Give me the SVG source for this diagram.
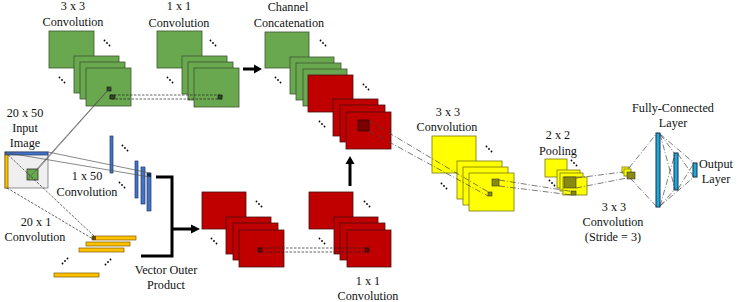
<svg xmlns="http://www.w3.org/2000/svg" width="747" height="302" viewBox="0 0 747 302">
<style>
text{font-family:'Liberation Serif','Times New Roman',Times,serif;font-size:12.2px;fill:#111;text-anchor:middle}
.g{fill:#6aa84f;stroke:#3d5530;stroke-width:0.8}
.r{fill:#c00000;stroke:#4a1010;stroke-width:0.8}
.y{fill:#ffff00;stroke:#77770a;stroke-width:0.8}
.b{fill:#4472c4;stroke:#213a6a;stroke-width:0.7}
.o{fill:#ffc000;stroke:#7a5c00;stroke-width:0.7}
.fc{fill:#1fa8dc;stroke:#14304a;stroke-width:1}
.thin{fill:none;stroke:#555;stroke-width:0.7}
.dash{fill:none;stroke:#222;stroke-width:0.7;stroke-dasharray:2.5 1.5}
.dd{fill:none;stroke:#444;stroke-width:0.7;stroke-dasharray:6 2 1 2}
.thick{fill:none;stroke:#000;stroke-width:3}
</style>
<defs>
<g id="dse"><circle cx="-2.5" cy="-2.5" r="0.9"/><circle cx="0" cy="0" r="0.9"/><circle cx="2.5" cy="2.5" r="0.9"/></g>
<g id="dne"><circle cx="-2.5" cy="2.5" r="0.9"/><circle cx="0" cy="0" r="0.9"/><circle cx="2.5" cy="-2.5" r="0.9"/></g>
</defs>
<rect width="747" height="302" fill="#fff"/>
<g font-family="Liberation Serif, Times New Roman, serif">

<g id="input-image">
<rect x="5" y="152" width="43" height="36" fill="#efefef" stroke="#777" stroke-width="0.8"/>
<rect class="b" x="5" y="152" width="43" height="3"/>
<rect class="o" x="5" y="155" width="3" height="33"/>
<rect class="g" x="27" y="169" width="11" height="11" style="stroke:#333"/>
<text x="25" y="117">20 x 50</text>
<text x="25" y="132">Input</text>
<text x="25" y="147">Image</text>
</g>

<g id="conv3x3-green">
<rect class="g" x="49" y="31" width="45" height="37"/>
<rect class="g" x="74" y="56" width="45" height="37"/>
<rect class="g" x="80" y="62" width="45" height="37"/>
<rect class="g" x="86" y="68" width="45" height="38"/>
<rect x="107" y="87" width="4" height="4" fill="#2d4a22" stroke="#111" stroke-width="0.6"/>
<use href="#dse" x="107" y="43"/><use href="#dse" x="62" y="80"/>
<text x="73" y="10">3 x 3</text>
<text x="73" y="26">Convolution</text>
</g>

<g id="conv1x1-green">
<rect class="g" x="157" y="31" width="45" height="37"/>
<rect class="g" x="182" y="56" width="45" height="38"/>
<rect class="g" x="188" y="62" width="45" height="38"/>
<rect class="g" x="194" y="68" width="45" height="39"/>
<use href="#dse" x="213" y="43"/><use href="#dse" x="170" y="80"/>
<text x="179" y="10">1 x 1</text>
<text x="179" y="27">Convolution</text>
</g>

<g id="concat">
<rect class="g" x="265" y="32" width="44" height="36"/>
<rect class="g" x="290" y="57" width="44" height="37"/>
<rect class="g" x="296" y="63" width="45" height="37"/>
<rect class="g" x="303" y="69" width="44" height="37"/>
<rect class="r" x="308" y="75" width="45" height="37"/>
<rect class="r" x="333" y="99" width="45" height="37"/>
<rect class="r" x="340" y="105" width="45" height="37"/>
<rect class="r" x="346" y="112" width="45" height="37"/>
<rect x="358" y="120" width="11" height="11" fill="#7a0000" stroke="#2a0000" stroke-width="0.7"/>
<use href="#dse" x="323" y="43"/><use href="#dse" x="278" y="80"/>
<use href="#dse" x="366" y="87"/><use href="#dse" x="322" y="124"/>
<text x="288" y="11">Channel</text>
<text x="289" y="27">Concatenation</text>
</g>

<g id="conv1x50">
<rect class="b" x="110" y="136" width="3" height="37"/>
<rect class="b" x="135" y="161" width="3" height="37"/>
<rect class="b" x="141" y="167" width="4" height="37"/>
<rect class="b" x="147" y="173" width="4" height="38"/>
<rect x="147" y="173" width="4" height="4" fill="#1a2a50"/>
<use href="#dse" x="125" y="148"/><use href="#dse" x="122" y="185"/>
<text x="87" y="180">1 x 50</text>
<text x="87" y="196">Convolution</text>
</g>

<g id="conv20x1">
<rect class="o" x="92" y="236" width="44" height="4"/>
<rect x="92" y="236" width="4" height="4" fill="#6a4a00"/>
<rect class="o" x="86" y="242" width="44" height="4"/>
<rect class="o" x="79" y="248" width="45" height="4"/>
<rect class="o" x="54" y="273" width="45" height="4"/>
<use href="#dne" x="65" y="261"/><use href="#dne" x="108" y="262"/>
<text x="36" y="226">20 x 1</text>
<text x="35" y="241">Convolution</text>
</g>

<g id="outer-product-label">
<text x="166" y="274">Vector Outer</text>
<text x="166" y="289">Product</text>
</g>

<g id="outer-product">
<rect class="r" x="202" y="192" width="44" height="37"/>
<rect class="r" x="226" y="217" width="45" height="37"/>
<rect class="r" x="233" y="223" width="45" height="37"/>
<rect class="r" x="239" y="230" width="45" height="37"/>
<use href="#dse" x="259" y="204"/><use href="#dse" x="214" y="241"/>
</g>

<g id="conv1x1-red">
<rect class="r" x="309" y="192" width="44" height="37"/>
<rect class="r" x="334" y="217" width="44" height="37"/>
<rect class="r" x="340" y="223" width="45" height="37"/>
<rect class="r" x="347" y="230" width="44" height="37"/>
<use href="#dse" x="367" y="204"/><use href="#dse" x="322" y="241"/>
<text x="368" y="285">1 x 1</text>
<text x="368" y="300">Convolution</text>
</g>

<g id="conv3x3-yellow">
<rect class="y" x="432" y="136" width="44" height="37"/>
<rect class="y" x="457" y="161" width="45" height="38"/>
<rect class="y" x="463" y="167" width="45" height="38"/>
<rect class="y" x="469" y="173" width="45" height="38"/>
<rect x="492" y="179" width="7" height="7" fill="#8a8a10" stroke="#333" stroke-width="0.6"/>
<rect x="488" y="192" width="4" height="4" fill="#8a8a10" stroke="#333" stroke-width="0.6"/>
<use href="#dse" x="489" y="149"/><use href="#dse" x="444" y="186"/>
<text x="448" y="116">3 x 3</text>
<text x="447" y="131">Convolution</text>
</g>

<g id="pooling">
<rect class="y" x="545" y="159" width="22" height="18"/>
<rect class="y" x="557" y="170" width="23" height="18"/>
<rect class="y" x="560" y="173" width="23" height="18"/>
<rect class="y" x="563" y="177" width="24" height="18"/>
<rect x="564" y="177" width="12" height="11" fill="#8a8a10" stroke="#333" stroke-width="0.6"/>
<rect x="571" y="191" width="5" height="4" fill="#8a8a10" stroke="#333" stroke-width="0.6"/>
<use href="#dse" x="574" y="163"/><use href="#dse" x="552" y="183"/>
<text x="558" y="139">2 x 2</text>
<text x="558" y="155">Pooling</text>
</g>

<g id="conv3x3-stride">
<rect class="y" x="622" y="167" width="7" height="6"/>
<rect class="y" x="624" y="169" width="7" height="7"/>
<rect x="627" y="172" width="8" height="7" fill="#8a8a10" stroke="#333" stroke-width="0.6"/>
<text x="614" y="211">3 x 3</text>
<text x="613" y="226">Convolution</text>
<text x="613" y="241">(Stride = 3)</text>
</g>

<g id="fc-layer">
<rect class="fc" x="656" y="133" width="4" height="74"/>
<text x="673" y="112">Fully-Connected</text>
<text x="673" y="127">Layer</text>
</g>
<g id="fc-layer-2">
<rect class="fc" x="674" y="153" width="4" height="37"/>
</g>
<g id="output-layer">
<rect class="fc" x="693" y="163" width="4" height="14"/>
<text x="716" y="168">Output</text>
<text x="716" y="183">Layer</text>
</g>

<g id="connectors">
<line class="thin" x1="27" y1="180" x2="107" y2="91"/>
<line class="thin" x1="38" y1="169" x2="111" y2="87"/>
<line class="thin" x1="48" y1="152" x2="150" y2="173"/>
<line class="thin" x1="8" y1="153" x2="150" y2="177"/>
<line class="dash" x1="5" y1="152" x2="94" y2="236"/>
<line class="dash" x1="7" y1="188" x2="93" y2="239"/>
<rect class="dash" x="110" y="95" width="112" height="4"/>
<rect x="110" y="95" width="5" height="4" fill="#2d4a22" stroke="#111" stroke-width="0.6"/>
<rect x="218" y="95" width="4" height="4" fill="#2d4a22" stroke="#111" stroke-width="0.6"/>
<rect class="dash" x="258" y="248" width="111" height="4"/>
<rect x="258" y="248" width="4" height="4" fill="#7a0000" stroke="#111" stroke-width="0.6"/>
<rect x="365" y="248" width="4" height="4" fill="#7a0000" stroke="#111" stroke-width="0.6"/>
<path class="thick" d="M243,69 H255"/>
<polygon points="254,64.5 262,69 254,73.5" fill="#000"/>
<path class="thick" d="M141,256 H172 V177 H156" style="stroke-linejoin:miter"/>
<path class="thick" d="M172,229 H192"/>
<polygon points="191,224.5 200,229 191,233.5" fill="#000"/>
<path class="thick" d="M350,186 V163"/>
<polygon points="345.5,164 350,156 354.5,164" fill="#000"/>
<line class="dd" x1="369" y1="121" x2="490" y2="193"/>
<line class="dd" x1="369" y1="131" x2="488" y2="196"/>
<line class="dd" x1="499" y1="180" x2="575" y2="192"/>
<line class="dd" x1="499" y1="186" x2="572" y2="195"/>
<line class="dd" x1="576" y1="178" x2="623" y2="172"/>
<line class="dd" x1="576" y1="188" x2="627" y2="178"/>
<line class="dd" x1="629" y1="168" x2="657" y2="133"/>
<line class="dd" x1="630" y1="178" x2="657" y2="207"/>
<line class="dd" x1="660" y1="134" x2="675" y2="154"/>
<line class="dd" x1="660" y1="134" x2="675" y2="189"/>
<line class="dd" x1="660" y1="206" x2="675" y2="154"/>
<line class="dd" x1="660" y1="206" x2="675" y2="189"/>
<line class="dd" x1="660" y1="134" x2="694" y2="163"/>
<line class="dd" x1="660" y1="206" x2="694" y2="177"/>
<line class="dd" x1="678" y1="154" x2="694" y2="177"/>
<line class="dd" x1="678" y1="189" x2="694" y2="163"/>
</g>
</g>
</svg>
